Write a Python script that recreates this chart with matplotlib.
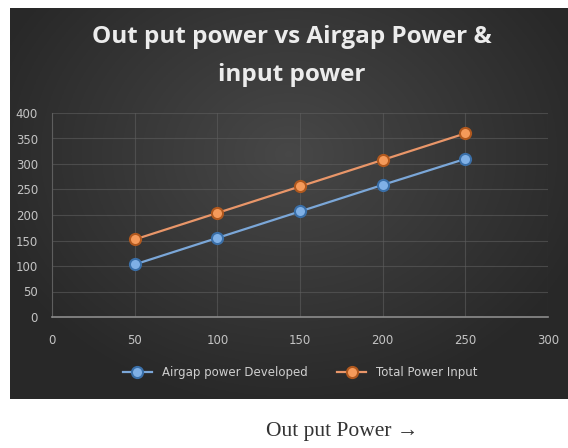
import numpy as np
import matplotlib.pyplot as plt

# === Data ===
output_power = [50, 100, 150, 200, 250]
airgap_power = [103, 155, 207, 259, 310]
input_power = [152, 204, 256, 308, 360]
x_ticks = [0, 50, 100, 150, 200, 250, 300]
y_ticks = [0, 50, 100, 150, 200, 250, 300, 350, 400]

W, H = 568, 448
fig = plt.figure(figsize=(W / 100, H / 100), dpi=100)
fig.patch.set_facecolor('white')

# === Dark gradient panel ===
bg = fig.add_axes([10 / W, 1 - 399 / H, (W - 10) / W, (399 - 8) / H])
gx, gy = np.meshgrid(np.linspace(-1, 1, 300), np.linspace(-1, 1, 220))
r = np.sqrt(gx ** 2 * 0.8 + (gy + 0.25) ** 2 * 0.6)
shade = 0.28 - 0.12 * np.clip(r, 0, 1)
bg.imshow(np.dstack([shade] * 3), aspect='auto', extent=[0, 1, 0, 1])
bg.axis('off')

# === Plot ===
ax = fig.add_axes([52 / W, 1 - 317 / H, 496 / W, 204 / H])
ax.patch.set_alpha(0)
ax.plot(output_power, airgap_power, color='#7ba7d8', lw=1.6, marker='o', ms=8,
        mfc='#7fb0e6', mec='#3a6fa8', mew=1.5, label='Airgap power Developed', zorder=3)
ax.plot(output_power, input_power, color='#e99669', lw=1.6, marker='o', ms=8,
        mfc='#f59a5a', mec='#b0581e', mew=1.5, label='Total Power Input', zorder=3)

ax.set_xlim(0, 300)
ax.set_ylim(0, 400)
ax.set_xticks(x_ticks)
ax.set_yticks(y_ticks)
ax.tick_params(colors='#c4c4c4', labelsize=8.5, length=0)
ax.tick_params(axis='x', pad=12)
ax.tick_params(axis='y', pad=10)
ax.grid(True, color='#5e5e5e', lw=0.8, alpha=0.6)
for s in ['top', 'right']:
    ax.spines[s].set_visible(False)
ax.spines['bottom'].set_color('#8c8c8c')
ax.spines['bottom'].set_linewidth(1.2)
ax.spines['left'].set_color('#5e5e5e')

leg = ax.legend(loc='upper center', bbox_to_anchor=(0.5, -0.19), ncol=2, frameon=False,
                fontsize=8.5, labelcolor='#cfcfcf', handlelength=2.5, columnspacing=2.5)

fig.text(292 / W, 1 - 56 / H, 'Out put power vs Airgap Power &\ninput power', ha='center',
         va='center', color='#ececec', fontsize=17.5, fontweight='bold',
         family='Open Sans', linespacing=1.75)

fig.text(342 / W, 1 - 431 / H, 'Out put Power \u2192', ha='center', va='center',
         color='#333333', fontsize=15.5, family='Liberation Serif')

plt.savefig('out.png', dpi=100)
